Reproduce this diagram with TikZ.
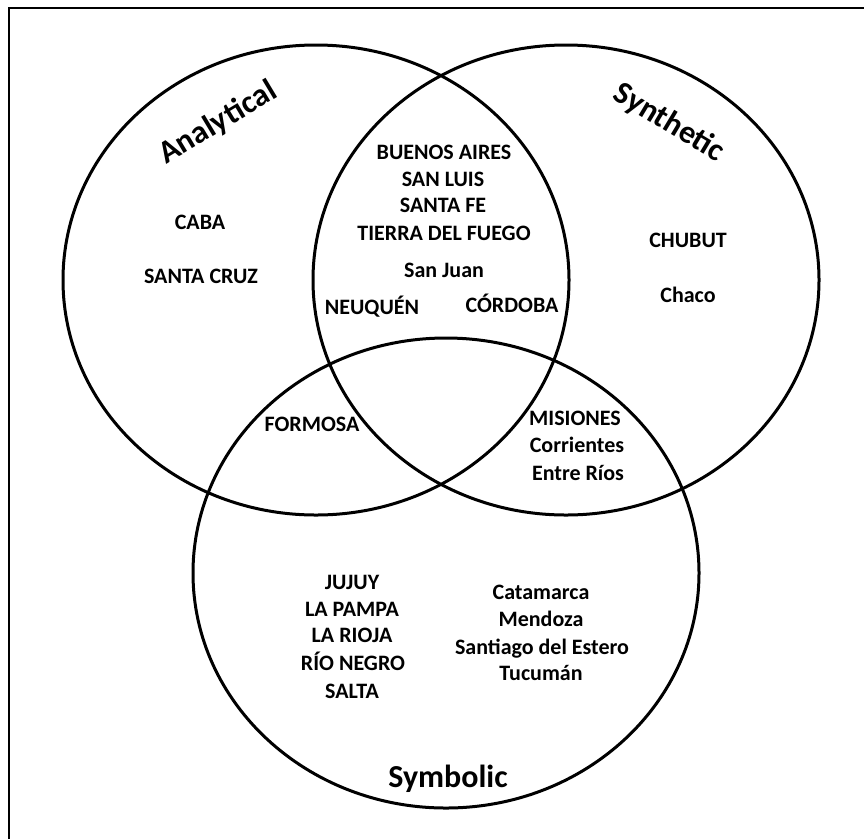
\documentclass[tikz,border=0pt]{standalone}
\usepackage{fontspec}
\setmainfont{Carlito}
\begin{document}
\begin{tikzpicture}[x=1pt,y=-1pt,
  setline/.style={line width=3pt},
  frameline/.style={line width=2pt},
  item/.style={font=\fontsize{22}{26}\selectfont\bfseries, inner sep=0pt, anchor=base},
  settitle/.style={font=\fontsize{32}{36}\selectfont\bfseries, inner sep=0pt, anchor=center}]
\useasboundingbox (0,0) rectangle (864,839);
% frame (only top and left visible)
\coordinate (fl) at (9,839);
\coordinate (fc) at (9,8);
\coordinate (fr) at (864,8);
\draw[frameline] (fl) -- (fc) -- (fr);
% sets
\draw[setline] (316,280) ellipse [x radius=253pt, y radius=235pt];
\draw[setline] (566,280) ellipse [x radius=253pt, y radius=235pt];
\draw[setline] (446,573) ellipse [x radius=253pt, y radius=235pt];
% titles
\node[settitle, rotate=31] (analytical) at (218,123) {Analytical};
\node[settitle, rotate=-31] (synthetic) at (669,123) {Synthetic};
\node[settitle] (symbolic) at (448,779) {Symbolic};
% analytical only
\node[item] (caba) at (200,229) {CABA};
\node[item] (santacruz) at (201,283) {SANTA CRUZ};
% synthetic only
\node[item] (chubut) at (688,247) {CHUBUT};
\node[item] (chaco) at (688,302) {Chaco};
% analytical & synthetic
\node[item] (bsas) at (444,159) {BUENOS AIRES};
\node[item] (sanluis) at (443,186) {SAN LUIS};
\node[item] (santafe) at (443,212) {SANTA FE};
\node[item] (tdf) at (444,240) {TIERRA DEL FUEGO};
\node[item] (sanjuan) at (444,277) {San Juan};
\node[item] (neuquen) at (372,314) {NEUQUÉN};
\node[item] (cordoba) at (512,312) {CÓRDOBA};
% analytical & symbolic
\node[item] (formosa) at (312,431) {FORMOSA};
% synthetic & symbolic
\node[item] (misiones) at (575,425) {MISIONES};
\node[item] (corrientes) at (577,452) {Corrientes};
\node[item] (entrerios) at (578,480) {Entre Ríos};
% symbolic only
\node[item] (jujuy) at (352,589) {JUJUY};
\node[item] (lapampa) at (352,616) {LA PAMPA};
\node[item] (larioja) at (352,642) {LA RIOJA};
\node[item] (rionegro) at (353,670) {RÍO NEGRO};
\node[item] (salta) at (352,698) {SALTA};
\node[item] (catamarca) at (541,599) {Catamarca};
\node[item] (mendoza) at (541,626) {Mendoza};
\node[item] (santiago) at (542,654) {Santiago del Estero};
\node[item] (tucuman) at (541,680) {Tucumán};
\end{tikzpicture}
\end{document}
